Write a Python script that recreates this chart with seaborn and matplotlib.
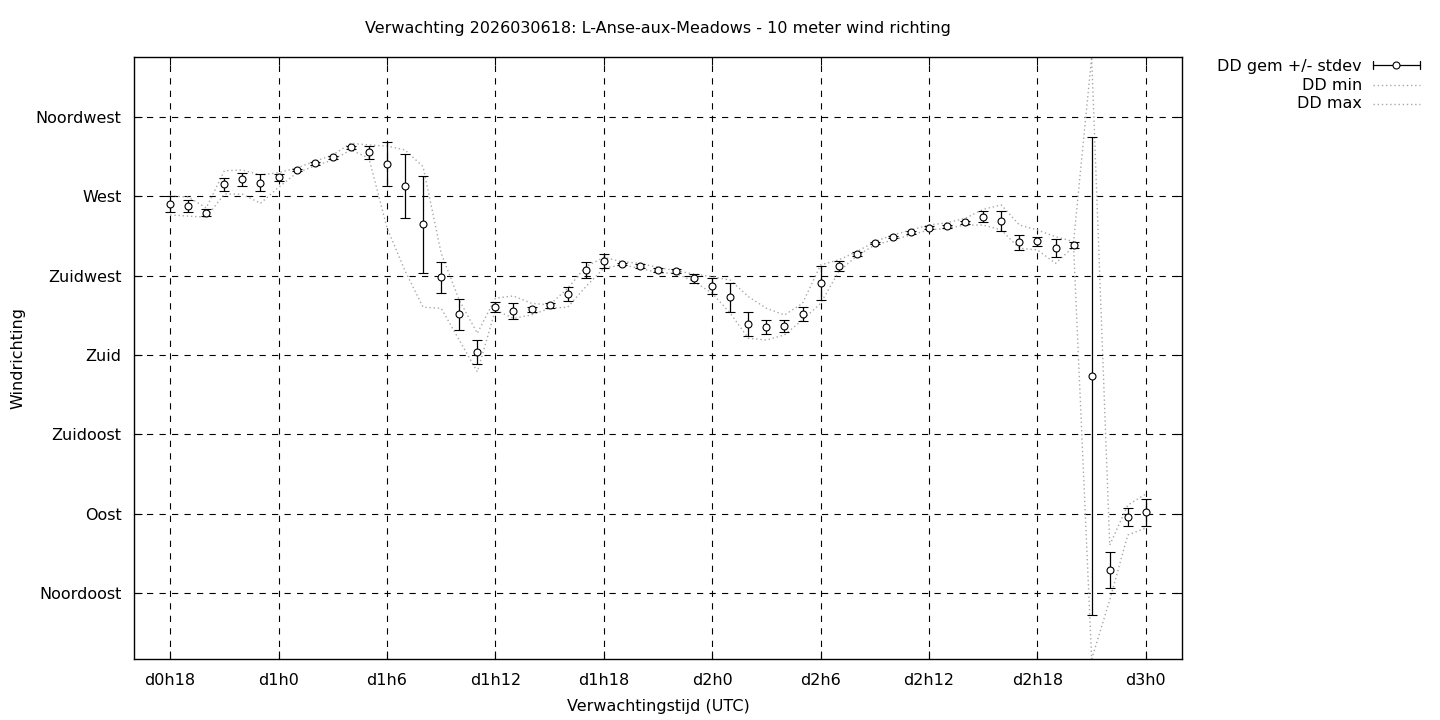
import numpy as np
import pandas as pd
import matplotlib
matplotlib.use("Agg")
import matplotlib.pyplot as plt
import seaborn as sns
from matplotlib.lines import Line2D

# uren sinds d0h0 (d0h18 .. d3h0)
uren = list(range(18, 73))

# gemiddelde windrichting (graden)
dd_gem = [265.5, 264.3, 260.7, 276.8, 279.7, 277.7, 280.8, 284.9, 288.7, 292.1,
          297.8, 295.0, 288.2, 275.7, 254.1, 224.1, 203.1, 181.5, 207.1, 204.8,
          205.9, 208.2, 214.6, 228.2, 233.2, 231.6, 230.5, 228.0, 227.5, 223.5,
          219.1, 212.7, 197.6, 195.9, 196.5, 203.3, 220.7, 230.5, 237.3, 243.5,
          246.8, 249.6, 252.2, 253.0, 255.3, 258.5, 256.0, 243.9, 244.5, 240.7,
          242.2, 168.2, 58.1, 88.1, 90.8]

# standaarddeviatie
dd_std = [4.5, 3.4, 2.1, 3.6, 3.6, 4.9, 1.9, 0.8, 0.7, 0.8,
          1.0, 3.6, 12.5, 18.2, 27.5, 8.7, 8.9, 6.8, 2.8, 4.5,
          1.5, 1.4, 4.2, 4.8, 3.8, 0.8, 1.0, 1.1, 1.2, 2.7,
          4.3, 8.2, 6.6, 4.0, 3.4, 4.2, 9.6, 2.7, 1.0, 0.8,
          0.7, 0.7, 0.8, 1.0, 0.9, 3.2, 5.5, 4.4, 2.7, 5.2,
          1.8, 135.4, 10.4, 5.0, 7.6]

# minimum
dd_min = [259.4, 258.8, 258.1, 271.3, 271.2, 266.0, 275.1, 283.2, 287.2, 290.6,
          296.3, 291.7, 252.2, 227.7, 207.1, 206.5, 188.5, 170.5, 205.5, 200.8,
          202.7, 206.5, 207.1, 218.7, 229.2, 231.1, 229.2, 226.7, 226.3, 221.6,
          215.0, 203.7, 189.5, 188.5, 191.4, 199.9, 209.3, 227.3, 236.2, 242.4,
          245.2, 248.1, 250.9, 251.9, 253.7, 253.7, 250.9, 240.5, 239.6, 232.0,
          241.4, 7.6, 41.0, 77.9, 81.9]

# maximum
dd_max = [270.2, 269.6, 263.4, 284.5, 284.9, 282.1, 283.4, 286.1, 289.8, 293.4,
          300.1, 299.1, 298.5, 296.3, 286.8, 237.7, 211.2, 192.3, 212.2, 213.5,
          209.3, 208.4, 217.8, 230.1, 235.4, 232.9, 232.0, 229.7, 227.8, 225.9,
          224.4, 222.5, 213.1, 206.5, 202.7, 209.3, 231.1, 233.9, 238.6, 244.3,
          248.1, 250.9, 253.7, 255.0, 257.5, 262.6, 265.1, 253.7, 250.9, 247.1,
          244.3, 349.0, 72.2, 94.9, 101.2]

x_ticks = [18, 24, 30, 36, 42, 48, 54, 60, 66, 72]
x_labels = ["d0h18", "d1h0", "d1h6", "d1h12", "d1h18", "d2h0", "d2h6",
            "d2h12", "d2h18", "d3h0"]
y_ticks = [45, 90, 135, 180, 225, 270, 315]
y_labels = ["Noordoost", "Oost", "Zuidoost", "Zuid", "Zuidwest", "West",
            "Noordwest"]

df = pd.DataFrame({"uur": uren, "gem": dd_gem, "std": dd_std,
                   "min": dd_min, "max": dd_max})

sns.set_style("ticks")
plt.rcParams['font.family'] = ['DejaVu Sans']
plt.rcParams['lines.scale_dashes'] = False
plt.rcParams['text.color'] = 'black'

FS = 11.5
W, H = 1440, 720
fig = plt.figure(figsize=(W / 100, H / 100), dpi=100)
ax = fig.add_axes([134 / W, 1 - 659 / H, (1182 - 134) / W, (659 - 57) / H])

grijs = "#a8a8a8"
stip = (0, (1, 2))
sns.lineplot(data=df, x="uur", y="min", ax=ax, color=grijs, linestyle=stip,
             linewidth=1, zorder=2)
sns.lineplot(data=df, x="uur", y="max", ax=ax, color=grijs, linestyle=stip,
             linewidth=1, zorder=2)
ax.errorbar(df["uur"], df["gem"], yerr=df["std"], fmt="o", ms=5,
            mfc="white", mec="black", mew=0.8, ecolor="black",
            elinewidth=0.9, capsize=3.5, capthick=0.9, zorder=3)

ax.set_xlim(16, 74)
ax.set_ylim(7.6, 349)
ax.set_xticks(x_ticks)
ax.set_xticklabels(x_labels)
ax.set_yticks(y_ticks)
ax.set_yticklabels(y_labels)
ax.set_xlabel("")
ax.set_ylabel("")
ax.tick_params(direction="in", length=6, width=0.8, top=True, right=True,
               labelsize=FS, colors="black", labelcolor="black")
ax.tick_params(axis="x", pad=10)
ax.tick_params(axis="y", pad=9)
ax.grid(True, color="black", linestyle=(0, (4.5, 4.5)), linewidth=0.8)
ax.set_axisbelow(True)
for s in ax.spines.values():
    s.set_color("black")
    s.set_linewidth(1)

fig.text(658 / W, 1 - 29 / H,
         "Verwachting 2026030618: L-Anse-aux-Meadows - 10 meter wind richting",
         ha="center", va="center", fontsize=FS)
fig.text(658 / W, 1 - 707 / H, "Verwachtingstijd (UTC)", ha="center",
         va="center", fontsize=FS)
fig.text(18 / W, 1 - 358 / H, "Windrichting", ha="center", va="center",
         rotation=90, fontsize=FS)

# legenda
def fx(px):
    return px / W

def fy(py):
    return 1 - py / H

fig.text(fx(1362), fy(66), "DD gem +/- stdev", ha="right", va="center", fontsize=FS)
fig.text(fx(1362), fy(85), "DD min", ha="right", va="center", fontsize=FS)
fig.text(fx(1362), fy(104), "DD max", ha="right", va="center", fontsize=FS)
tf = fig.transFigure
fig.add_artist(Line2D([fx(1373), fx(1420)], [fy(65), fy(65)], transform=tf,
                      color="black", lw=0.9))
for xc in (1373, 1420):
    fig.add_artist(Line2D([fx(xc), fx(xc)], [fy(61), fy(69)], transform=tf,
                          color="black", lw=0.9))
fig.add_artist(Line2D([fx(1396)], [fy(65)], transform=tf, marker="o", ms=5,
                      mfc="white", mec="black", mew=0.8, lw=0))
for yy in (85, 104):
    fig.add_artist(Line2D([fx(1373), fx(1420)], [fy(yy), fy(yy)], transform=tf,
                          color=grijs, lw=1, linestyle=stip))

fig.savefig("out.png", dpi=100)
